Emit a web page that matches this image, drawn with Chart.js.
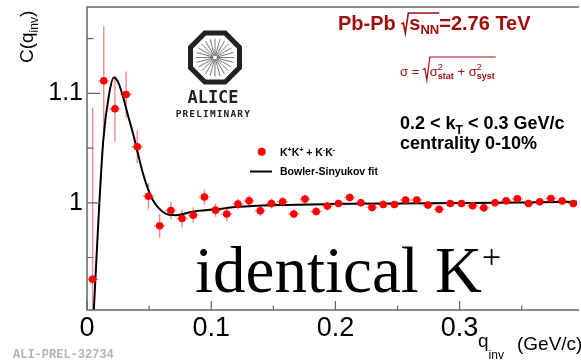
<!DOCTYPE html>
<html>
<head>
<meta charset="utf-8">
<script src="https://cdn.jsdelivr.net/npm/chart.js@4"></script>
<style>
  html, body { margin: 0; padding: 0; background: #fff; overflow: hidden; }
  canvas { display: block; }
</style>
</head>
<body>
<canvas id="c" width="581" height="362"></canvas>
<script>
// K+K+ / K-K- correlation function, bin centres in q_inv (GeV/c)
const qValues = [0.0045, 0.0135, 0.0225, 0.0315, 0.0405, 0.0495, 0.0585, 0.0675, 0.0765, 0.0855,
  0.0945, 0.1035, 0.1125, 0.1215, 0.1305, 0.1395, 0.1485, 0.1575, 0.1665, 0.1755,
  0.1845, 0.1935, 0.2025, 0.2115, 0.2205, 0.2295, 0.2385, 0.2475, 0.2565, 0.2655,
  0.2745, 0.2835, 0.2925, 0.3015, 0.3105, 0.3195, 0.3285, 0.3375, 0.3465, 0.3555,
  0.3645, 0.3735, 0.3825, 0.3915]
const cValues = [0.930, 1.1115, 1.086, 1.099, 1.0512, 1.006, 0.979, 0.993, 0.9857, 0.9887,
  1.0052, 0.9933, 0.9897, 0.9988, 1.0018, 0.9927, 0.9994, 1.001, 0.9897, 1.0034,
  0.9921, 0.997, 0.9994, 1.0049, 1.0, 0.9958, 0.9985, 0.9985, 1.0025, 1.0025,
  0.9979, 0.994, 0.9994, 0.9994, 0.9973, 0.9954, 1.0, 1.0018, 1.0037, 0.9994,
  1.001, 1.004, 1.0016, 0.9994]
const cErrors = [0.157, 0.05, 0.03, 0.021, 0.015, 0.012, 0.011, 0.008, 0.008, 0.007,
  0.007, 0.006, 0.006, 0.005, 0.005, 0.005, 0.0045, 0.0045, 0.004, 0.004,
  0.004, 0.004, 0.0035, 0.0035, 0.0035, 0.0035, 0.0035, 0.003, 0.003, 0.003,
  0.003, 0.003, 0.003, 0.003, 0.003, 0.003, 0.003, 0.003, 0.003, 0.003,
  0.003, 0.003, 0.003, 0.003]
const binHalfWidth = 0.0045

// Bowler-Sinyukov fit curve
const fitQ = [0.0052, 0.009, 0.0131, 0.0176, 0.0216, 0.025, 0.029, 0.033, 0.037, 0.041,
  0.045, 0.049, 0.053, 0.057, 0.061, 0.066, 0.072, 0.085, 0.1035, 0.122,
  0.154, 0.194, 0.25, 0.3, 0.35, 0.3945]
const fitC = [0.895, 0.98, 1.057, 1.098, 1.1146, 1.1106, 1.097, 1.08, 1.0635, 1.045,
  1.027, 1.013, 1.0025, 0.996, 0.9918, 0.989, 0.9887, 0.9918, 0.994, 0.9963,
  0.9979, 0.9988, 0.9994, 0.9998, 1.0003, 1.001]

const xTickValues = [0, 0.1, 0.2, 0.3]
const xTickLabels = ['0', '0.1', '0.2', '0.3']
const xMinorTicks = [0.05, 0.15, 0.25, 0.35]
const yTickValues = [1, 1.1]
const yTickLabels = ['1', '1.1']
const yMinorTicks = [0.95, 1.05, 1.15]

const SANS = '"Liberation Sans", Arial, sans-serif'
const SERIF = '"Liberation Serif", "Times New Roman", serif'
const DARKRED = '#a00d0d'

function rich(ctx, x, y, parts) {
  parts.forEach(p => {
    ctx.font = p.font
    ctx.fillText(p.t, x + (p.dx || 0), y + (p.dy || 0))
    if (!p.stay) x += ctx.measureText(p.t).width + (p.dx || 0)
  })
  return x
}

function sqrtSign(ctx, x, yTop, yBot, xEnd, lw) {
  ctx.beginPath()
  ctx.lineWidth = lw
  const h = yBot - yTop
  ctx.moveTo(x, yTop + h * 0.55)
  ctx.lineTo(x + 2, yTop + h * 0.5)
  ctx.lineTo(x + 4, yBot)
  ctx.lineTo(x + 7, yTop)
  ctx.lineTo(xEnd, yTop)
  ctx.stroke()
}

const errorBars = {
  id: 'errorBars',
  beforeDatasetsDraw(chart) {
    const { ctx, chartArea: a, scales: { x, y } } = chart
    ctx.save()
    ctx.beginPath()
    ctx.rect(a.left, a.top, a.right - a.left, a.bottom - a.top)
    ctx.clip()
    ctx.strokeStyle = 'rgba(240,40,40,0.55)'
    ctx.lineWidth = 1.4
    qValues.forEach((q, i) => {
      const px = x.getPixelForValue(q)
      const py = y.getPixelForValue(cValues[i])
      ctx.beginPath()
      ctx.moveTo(px, y.getPixelForValue(cValues[i] - cErrors[i]))
      ctx.lineTo(px, y.getPixelForValue(cValues[i] + cErrors[i]))
      ctx.moveTo(x.getPixelForValue(q - binHalfWidth), py)
      ctx.lineTo(x.getPixelForValue(q + binHalfWidth), py)
      ctx.stroke()
    })
    ctx.restore()
  }
}

const decorations = {
  id: 'decorations',
  afterDraw(chart) {
    const { ctx, chartArea: a, scales: { x, y } } = chart
    ctx.save()
    // frame
    ctx.strokeStyle = '#666'
    ctx.lineWidth = 1.5
    ctx.beginPath()
    ctx.moveTo(a.right + 2, a.top)
    ctx.lineTo(a.left, a.top)
    ctx.lineTo(a.left, a.bottom)
    ctx.lineTo(a.right + 2, a.bottom)
    ctx.stroke()
    // ticks pointing inward
    ctx.lineWidth = 1.2
    ctx.beginPath()
    xTickValues.forEach(v => { const p = x.getPixelForValue(v); ctx.moveTo(p, a.bottom); ctx.lineTo(p, a.bottom - 9) })
    xMinorTicks.forEach(v => { const p = x.getPixelForValue(v); ctx.moveTo(p, a.bottom); ctx.lineTo(p, a.bottom - 4.5) })
    yTickValues.forEach(v => { const p = y.getPixelForValue(v); ctx.moveTo(a.left, p); ctx.lineTo(a.left + 13, p) })
    yMinorTicks.forEach(v => { const p = y.getPixelForValue(v); ctx.moveTo(a.left, p); ctx.lineTo(a.left + 6.5, p) })
    ctx.stroke()

    ctx.textBaseline = 'alphabetic'
    ctx.textAlign = 'left'

    // axis titles
    ctx.fillStyle = '#000'
    ctx.save()
    ctx.translate(33, 63)
    ctx.rotate(-Math.PI / 2)
    rich(ctx, 0, 0, [
      { t: 'C(q', font: '19px ' + SANS },
      { t: 'inv', font: '12px ' + SANS, dy: 5 },
      { t: ')', font: '19px ' + SANS }
    ])
    ctx.restore()
    rich(ctx, 478, 347, [
      { t: 'q', font: '19px ' + SANS },
      { t: 'inv', font: '12px ' + SANS, dy: 12 }
    ])
    ctx.font = '19px ' + SANS
    ctx.fillText('(GeV/c)', 517, 350)

    // ALI-PREL tag
    ctx.fillStyle = '#b4b4b4'
    ctx.font = 'bold 12px "Liberation Mono", monospace'
    ctx.fillText('ALI-PREL-32734', 13, 358)

    // collision system
    ctx.fillStyle = DARKRED
    ctx.strokeStyle = DARKRED
    let cx = rich(ctx, 338, 30, [{ t: 'Pb-Pb ', font: 'bold 20px ' + SANS }])
    const sStart = cx + 8
    let sEnd = rich(ctx, sStart, 30, [
      { t: 's', font: 'bold 20px ' + SANS },
      { t: 'NN', font: 'bold 13px ' + SANS, dy: 4 }
    ])
    sqrtSign(ctx, cx, 13, 33, sEnd, 1.6)
    rich(ctx, sEnd, 30, [{ t: '=2.76 TeV', font: 'bold 20px ' + SANS }])

    // total uncertainty
    cx = rich(ctx, 400, 76, [{ t: '\u03c3 = ', font: '13px ' + SANS }])
    const rStart = cx + 7
    let rEnd = rich(ctx, rStart, 76, [
      { t: '\u03c3', font: '13px ' + SANS },
      { t: '2', font: '9px ' + SANS, dy: -6, stay: true },
      { t: 'stat', font: 'bold 9px ' + SANS, dy: 3 },
      { t: ' + ', font: '13px ' + SANS },
      { t: '\u03c3', font: '13px ' + SANS },
      { t: '2', font: '9px ' + SANS, dy: -6, stay: true },
      { t: 'syst', font: 'bold 9px ' + SANS, dy: 3 }
    ])
    sqrtSign(ctx, cx, 57, 80, rEnd + 1, 1.2)

    // kT and centrality
    ctx.fillStyle = '#000'
    rich(ctx, 400, 129, [
      { t: '0.2 < k', font: 'bold 18px ' + SANS },
      { t: 'T', font: 'bold 12px ' + SANS, dy: 5 },
      { t: ' < 0.3 GeV/c', font: 'bold 18px ' + SANS }
    ])
    ctx.font = 'bold 18px ' + SANS
    ctx.fillText('centrality 0-10%', 400, 149)

    // legend
    ctx.fillStyle = '#ff0000'
    ctx.beginPath()
    ctx.arc(261.7, 151.7, 4, 0, Math.PI * 2)
    ctx.fill()
    ctx.fillStyle = '#000'
    const k = 'bold 10.5px ' + SANS, s = 'bold 7px ' + SANS
    rich(ctx, 280, 156, [
      { t: 'K', font: k }, { t: '+', font: s, dy: -4 },
      { t: 'K', font: k }, { t: '+', font: s, dy: -4 },
      { t: ' + K', font: k }, { t: '-', font: s, dy: -4 },
      { t: 'K', font: k }, { t: '-', font: s, dy: -4 }
    ])
    ctx.strokeStyle = '#000'
    ctx.lineWidth = 2
    ctx.beginPath()
    ctx.moveTo(250, 171.5)
    ctx.lineTo(272, 171.5)
    ctx.stroke()
    ctx.font = k
    ctx.fillText('Bowler-Sinyukov fit', 280, 175)

    // ALICE logo
    const lx = 215, ly = 57.5
    ctx.strokeStyle = '#222'
    ctx.lineWidth = 5
    ctx.beginPath()
    for (let i = 0; i < 8; i++) {
      const ang = Math.PI / 8 + i * Math.PI / 4
      const px = lx + 26.5 * Math.cos(ang), py = ly + 26.5 * Math.sin(ang)
      if (i === 0) ctx.moveTo(px, py); else ctx.lineTo(px, py)
    }
    ctx.closePath()
    ctx.stroke()
    ctx.strokeStyle = '#555'
    ctx.lineWidth = 0.8
    ctx.beginPath()
    for (let i = 0; i < 24; i++) {
      const ang = i * Math.PI / 12
      ctx.moveTo(lx + 2 * Math.cos(ang), ly + 2 * Math.sin(ang))
      ctx.lineTo(lx + 19 * Math.cos(ang), ly + 19 * Math.sin(ang))
    }
    ctx.stroke()
    ctx.fillStyle = '#222'
    ctx.textAlign = 'center'
    ctx.font = 'bold 17px "DejaVu Sans Mono", monospace'
    ctx.fillText('ALICE', lx - 2, 103)
    ctx.font = 'bold 9.5px "DejaVu Sans Mono", monospace'
    'PRELIMINARY'.split('').forEach((ch, i) => ctx.fillText(ch, 178.5 + i * 6.85, 117))

    // big label
    ctx.textAlign = 'left'
    ctx.fillStyle = '#000'
    cx = rich(ctx, 195, 292, [{ t: 'identical K', font: '65px ' + SERIF }])
    ctx.font = '34px ' + SERIF
    ctx.fillText('+', cx, 268)
    ctx.restore()
  }
}

new Chart(document.getElementById('c'), {
  type: 'scatter',
  data: {
    datasets: [
      {
        label: 'K+K+ + K-K-',
        data: qValues.map((q, i) => ({ x: q, y: cValues[i] })),
        pointRadius: 3.8,
        pointBackgroundColor: '#ff0000',
        pointBorderWidth: 0,
        order: 0
      },
      {
        label: 'Bowler-Sinyukov fit',
        data: fitQ.map((q, i) => ({ x: q, y: fitC[i] })),
        showLine: true,
        pointRadius: 0,
        borderColor: '#000',
        borderWidth: 2,
        cubicInterpolationMode: 'monotone',
        order: 1
      }
    ]
  },
  options: {
    responsive: false,
    animation: false,
    layout: { padding: { top: 7, right: 0, left: 0, bottom: 0 } },
    plugins: { legend: { display: false }, tooltip: { enabled: false } },
    scales: {
      x: {
        type: 'linear',
        min: 0,
        max: 0.3945,
        grid: { display: false, drawTicks: false },
        border: { display: false },
        afterBuildTicks: s => { s.ticks = xTickValues.map(v => ({ value: v })) },
        afterFit: s => { s.height = 52; s.paddingLeft = 0; s.paddingRight = 0 },
        ticks: {
          padding: 2,
          maxRotation: 0,
          autoSkip: false,
          color: '#000',
          font: { family: SANS, size: 27 },
          callback: v => xTickLabels[xTickValues.findIndex(t => Math.abs(t - v) < 1e-9)]
        }
      },
      y: {
        type: 'linear',
        min: 0.902,
        max: 1.179,
        grid: { display: false, drawTicks: false },
        border: { display: false },
        afterBuildTicks: s => { s.ticks = yTickValues.map(v => ({ value: v })) },
        afterFit: s => { s.width = 87; s.paddingTop = 0; s.paddingBottom = 0 },
        ticks: {
          padding: 4,
          color: '#000',
          font: { family: SANS, size: 25 },
          callback: v => yTickLabels[yTickValues.findIndex(t => Math.abs(t - v) < 1e-9)]
        }
      }
    }
  },
  plugins: [errorBars, decorations]
})
</script>
</body>
</html>
